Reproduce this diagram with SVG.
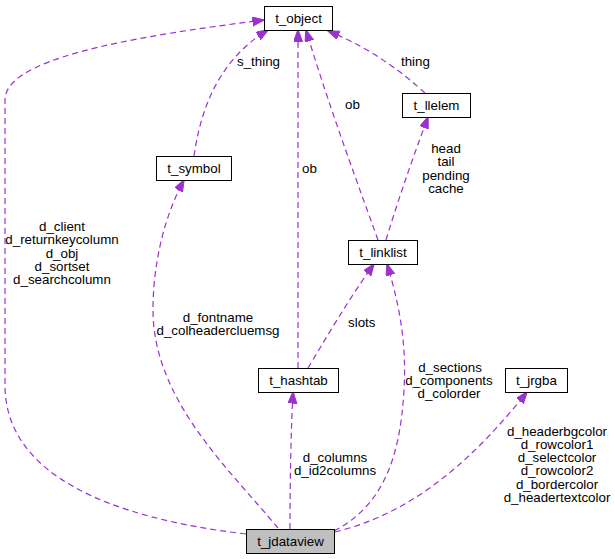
<svg xmlns="http://www.w3.org/2000/svg" width="615" height="559" viewBox="0 0 615 559">
<style>
text { font-family: "Liberation Sans", Arial, sans-serif; font-size: 13.33px; fill: #000; }
.node rect { fill: #fff; stroke: #000; stroke-width: 1; }
.node text { text-anchor: middle; }
.edge path { fill: none; stroke: #9a32cd; stroke-width: 1.2; stroke-dasharray: 6,4; marker-end: url(#arr); }
.lbl { text-anchor: middle; }
</style>
<defs>
<marker id="arr" markerUnits="userSpaceOnUse" markerWidth="13" markerHeight="10" refX="11.5" refY="4.5" orient="auto" viewBox="0 0 13 10">
<path d="M0,0 L12,4.5 L0,9 z" fill="#9a32cd" stroke="#9a32cd" stroke-width="1"/>
</marker>
</defs>
<rect width="615" height="559" fill="#fff"/>
<g id="edges" class="edge">
<path d="M246,534 C110,518 5,475 5,385 L5,100 C5,60 120,38 264,20"/>
<path d="M194,156 C200,115 215,62 268,30"/>
<path d="M298,368 L298,30"/>
<path d="M378,240 C362,195 330,110 306,30"/>
<path d="M425,93 C405,75 375,50 328,31"/>
<path d="M386,240 C395,210 410,165 428,117"/>
<path d="M308,368 C325,340 348,300 374,264"/>
<path d="M278,528 C230,470 153,400 153,310 C153,262 165,215 184,180"/>
<path d="M290,529 C290,480 291,430 293,392"/>
<path d="M334,531 C382,506 400,460 404,390 C407,340 398,300 387,264"/>
<path d="M335,532 C405,515 465,470 527,392"/>
</g>
<g id="labels">
<text class="lbl" x="62" y="231">d_client</text>
<text class="lbl" x="62" y="244.3">d_returnkeycolumn</text>
<text class="lbl" x="62" y="257.6">d_obj</text>
<text class="lbl" x="62" y="270.9">d_sortset</text>
<text class="lbl" x="62" y="284.2">d_searchcolumn</text>
<text x="237" y="66">s_thing</text>
<text x="302" y="173">ob</text>
<text x="345" y="109">ob</text>
<text x="401" y="66">thing</text>
<text class="lbl" x="446" y="153">head</text>
<text class="lbl" x="446" y="166.3">tail</text>
<text class="lbl" x="446" y="179.6">pending</text>
<text class="lbl" x="446" y="192.9">cache</text>
<text x="348" y="327">slots</text>
<text class="lbl" x="218" y="321.5">d_fontname</text>
<text class="lbl" x="218" y="334.8">d_colheadercluemsg</text>
<text class="lbl" x="335" y="461.5">d_columns</text>
<text class="lbl" x="335" y="474.8">d_id2columns</text>
<text class="lbl" x="450" y="371.5">d_sections</text>
<text class="lbl" x="449" y="384.8">d_components</text>
<text class="lbl" x="449" y="398.1">d_colorder</text>
<text class="lbl" x="557" y="435.5">d_headerbgcolor</text>
<text class="lbl" x="557" y="448.8">d_rowcolor1</text>
<text class="lbl" x="557" y="462.1">d_selectcolor</text>
<text class="lbl" x="557" y="475.4">d_rowcolor2</text>
<text class="lbl" x="557" y="488.7">d_bordercolor</text>
<text class="lbl" x="557" y="502">d_headertextcolor</text>
</g>
<g id="t_object" class="node"><rect x="264.5" y="6.5" width="68" height="24"/><text x="298.5" y="23">t_object</text></g>
<g id="t_symbol" class="node"><rect x="156.5" y="156.5" width="75" height="24"/><text x="194" y="173">t_symbol</text></g>
<g id="t_llelem" class="node"><rect x="402.5" y="93.5" width="68" height="24"/><text x="436.5" y="110">t_llelem</text></g>
<g id="t_linklist" class="node"><rect x="348.5" y="240.5" width="69" height="24"/><text x="383" y="257">t_linklist</text></g>
<g id="t_hashtab" class="node"><rect x="258.5" y="368.5" width="80" height="24"/><text x="298.5" y="385">t_hashtab</text></g>
<g id="t_jrgba" class="node"><rect x="505.5" y="368.5" width="62" height="24"/><text x="536.5" y="385">t_jrgba</text></g>
<g id="t_jdataview" class="node"><rect x="246.5" y="529.5" width="88" height="24" style="fill:#bfbfbf"/><text x="290.5" y="546">t_jdataview</text></g>
</svg>
